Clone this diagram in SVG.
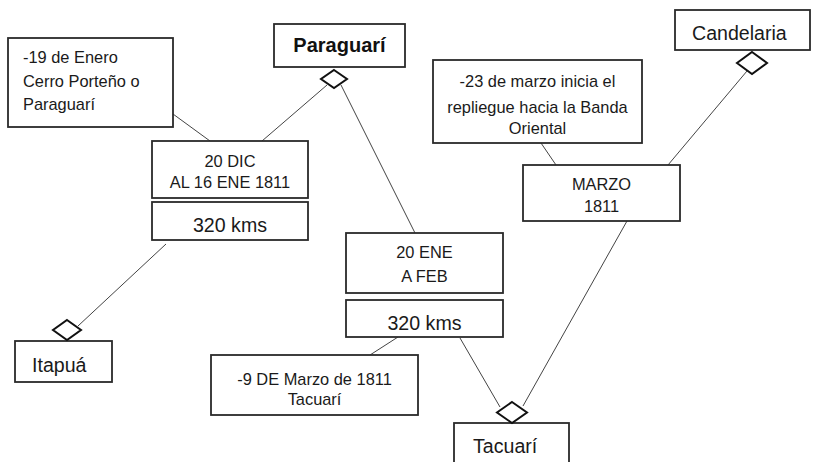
<svg xmlns="http://www.w3.org/2000/svg" width="813" height="462" viewBox="0 0 813 462">
<style>
.box{fill:#fff;stroke:#2a2a2a;stroke-width:1.8}
.dia{fill:#fff;stroke:#111;stroke-width:2}
.ln{stroke:#444;stroke-width:1;fill:none}
text{font-family:"Liberation Sans",Arial,sans-serif;fill:#1a1a1a}
.s{font-size:16.4px}
.l{font-size:19.6px}
.b{font-size:20px;font-weight:bold;fill:#111}
.c{text-anchor:middle}
</style>
<rect width="813" height="462" fill="#fff"/>
<g id="connectors">
<line class="ln" x1="173" y1="114" x2="210" y2="141"/>
<line class="ln" x1="327" y1="85" x2="262" y2="141"/>
<line class="ln" x1="341" y1="85" x2="415" y2="233"/>
<line class="ln" x1="166" y1="244" x2="78" y2="326"/>
<line class="ln" x1="541" y1="143" x2="556" y2="165"/>
<line class="ln" x1="747" y1="71" x2="668" y2="165"/>
<line class="ln" x1="627" y1="221" x2="523" y2="406"/>
<line class="ln" x1="398" y1="337" x2="370" y2="355"/>
<line class="ln" x1="460" y1="338" x2="500" y2="407"/>
</g>
<g id="note-enero">
<rect class="box" x="8" y="38" width="165" height="89"/>
<text class="s" x="23" y="63">-19 de Enero</text>
<text class="s" x="23" y="87">Cerro Porteño o</text>
<text class="s" x="23" y="110">Paraguarí</text>
</g>
<g id="paraguari">
<rect class="box" x="274" y="24" width="131" height="43"/>
<text class="b c" x="339.5" y="52">Paraguarí</text>
<polygon class="dia" points="334,70 347,79 334,88 321,79"/>
</g>
<g id="dic">
<rect class="box" x="152" y="141" width="156" height="57"/>
<text class="s c" x="230" y="167">20 DIC</text>
<text class="s c" x="230" y="188">AL 16 ENE 1811</text>
</g>
<g id="kms1">
<rect class="box" x="152" y="202" width="156" height="38"/>
<text class="l c" x="230" y="232">320 kms</text>
</g>
<g id="itapua">
<rect class="box" x="15" y="341" width="97" height="41"/>
<text class="l" x="32" y="372">Itapuá</text>
<polygon class="dia" points="67,320 81,330 67,340 53,330"/>
</g>
<g id="note-marzo">
<rect class="box" x="433" y="60" width="209" height="83"/>
<text class="s c" x="537.5" y="87">-23 de marzo inicia el</text>
<text class="s c" x="537.5" y="113">repliegue hacia la Banda</text>
<text class="s c" x="537.5" y="134">Oriental</text>
</g>
<g id="candelaria">
<rect class="box" x="675" y="10" width="135" height="40"/>
<text class="l" x="692" y="40">Candelaria</text>
<polygon class="dia" points="752,52 767,63 752,74 737,63"/>
</g>
<g id="marzo">
<rect class="box" x="523" y="165" width="157" height="56"/>
<text class="s c" x="601.5" y="190">MARZO</text>
<text class="s c" x="601.5" y="212">1811</text>
</g>
<g id="ene">
<rect class="box" x="346" y="233" width="157" height="60"/>
<text class="s c" x="424.5" y="258">20 ENE</text>
<text class="s c" x="424.5" y="282">A FEB</text>
</g>
<g id="kms2">
<rect class="box" x="346" y="300" width="157" height="37"/>
<text class="l c" x="424.5" y="330">320 kms</text>
</g>
<g id="note-tacuari">
<rect class="box" x="211" y="355" width="207" height="60"/>
<text class="s c" x="314.5" y="385">-9 DE Marzo de 1811</text>
<text class="s c" x="314.5" y="405">Tacuarí</text>
</g>
<g id="tacuari">
<rect class="box" x="454" y="423" width="115" height="45"/>
<text class="l" x="473" y="453">Tacuarí</text>
<polygon class="dia" points="512,402 527,412.5 512,423 497,412.5"/>
</g>
</svg>
